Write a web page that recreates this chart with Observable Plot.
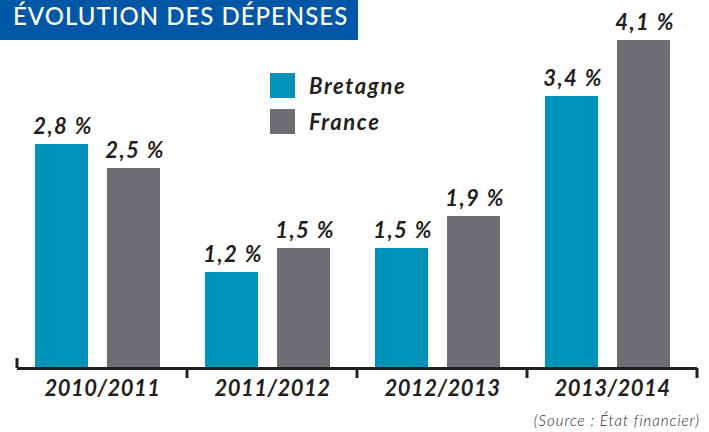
<!DOCTYPE html>
<html>
<head>
<meta charset="utf-8">
<script src="https://cdn.jsdelivr.net/npm/d3@7"></script>
<script src="https://cdn.jsdelivr.net/npm/@observablehq/plot@0.6"></script>
<style>
  html, body { margin: 0; padding: 0; background: #fff; }
  #wrap { position: relative; width: 709px; height: 432px; overflow: hidden; font-family: Lato, "DejaVu Sans", sans-serif; }
  #wrap svg text { font-family: Lato, "DejaVu Sans", sans-serif; font-style: italic; font-weight: bold; }
  #wrap svg .vlab text { letter-spacing: 1.5px; }
  #wrap svg .cat text { letter-spacing: 0.5px; }
  #banner { position: absolute; left: 0; top: 0; width: 358px; height: 40px; background: #0057a6; }
  #banner span { position: absolute; left: 13px; top: 4px; font-size: 24px; line-height: 24px; color: #fff; font-weight: 500; white-space: nowrap; letter-spacing: 1px; }
  .sw { position: absolute; left: 270px; width: 25px; height: 25px; }
  .lt { position: absolute; left: 309px; font-size: 22px; line-height: 22px; font-style: italic; font-weight: bold; color: #231f20; white-space: nowrap; letter-spacing: 1.6px; }
  #source { position: absolute; right: 9px; top: 413px; font-size: 15px; line-height: 15px; font-style: italic; font-weight: 300; color: #231f20; white-space: nowrap; letter-spacing: 1px; }
</style>
</head>
<body>
<div id="wrap">
  <div id="chart"></div>
  <div id="banner"><span>ÉVOLUTION DES DÉPENSES</span></div>
  <div id="legend"></div>
  <div id="source">(Source : État financier)</div>
</div>
<script>
const groups = ["2010/2011", "2011/2012", "2012/2013", "2013/2014"];
const series = ["Bretagne", "France"];
const bretagne = [2.8, 1.2, 1.5, 3.4];
const france = [2.5, 1.5, 1.9, 4.1];
const colors = ["#0093b9", "#6d6e71"];

const data = [];
groups.forEach((g, i) => {
  data.push({group: g, series: "Bretagne", value: bretagne[i]});
  data.push({group: g, series: "France", value: france[i]});
});
const fmt = v => String(v).replace(".", ",") + " %";
const ink = "#231f20";

const plot = Plot.plot({
  width: 709,
  height: 432,
  marginTop: 0,
  marginBottom: 64,
  marginLeft: 16,
  marginRight: 11,
  fx: {domain: groups, padding: 0, label: null},
  x: {domain: series, range: [34, 160], paddingInner: 0.26, paddingOuter: 0, align: 0, axis: null},
  y: {domain: [0, 4.6], axis: null},
  color: {domain: series, range: colors},
  marks: [
    Plot.barY(data, {fx: "group", x: "series", y: "value", fill: "series"}),
    Plot.text(data, {fx: "group", x: "series", y: "value", text: d => fmt(d.value), lineAnchor: "bottom", dy: -11, dx: 1, fontSize: 22, fill: ink, className: "vlab"}),
    Plot.ruleY([0], {stroke: ink, strokeWidth: 3}),
    Plot.axisFx({anchor: "bottom", tickSize: 0, tickPadding: 12, fontSize: 22, label: null, fill: ink, className: "cat"})
  ]
});
document.getElementById("chart").appendChild(plot);

// boundary ticks from the fx scale
const fxs = plot.scale("fx");
const ys = plot.scale("y");
const y0 = ys.apply(0);
const starts = fxs.domain.map(d => fxs.apply(d));
const bounds = starts.concat([starts[starts.length - 1] + fxs.bandwidth]);
const svg = d3.select(plot);
bounds.forEach((bx, i) => {
  svg.append("line")
    .attr("x1", bx).attr("x2", bx)
    .attr("y1", i === 0 ? y0 - 10 : y0)
    .attr("y2", i === 0 ? y0 : y0 + 10)
    .attr("stroke", ink).attr("stroke-width", 3);
});

// legend
const legend = document.getElementById("legend");
const legendTops = [73, 109];
series.forEach((s, i) => {
  const sw = document.createElement("div");
  sw.className = "sw";
  sw.style.top = legendTops[i] + "px";
  sw.style.background = colors[i];
  legend.appendChild(sw);
  const t = document.createElement("div");
  t.className = "lt";
  t.style.top = (legendTops[i] + 1.5) + "px";
  t.textContent = s;
  legend.appendChild(t);
});
</script>
</body>
</html>
